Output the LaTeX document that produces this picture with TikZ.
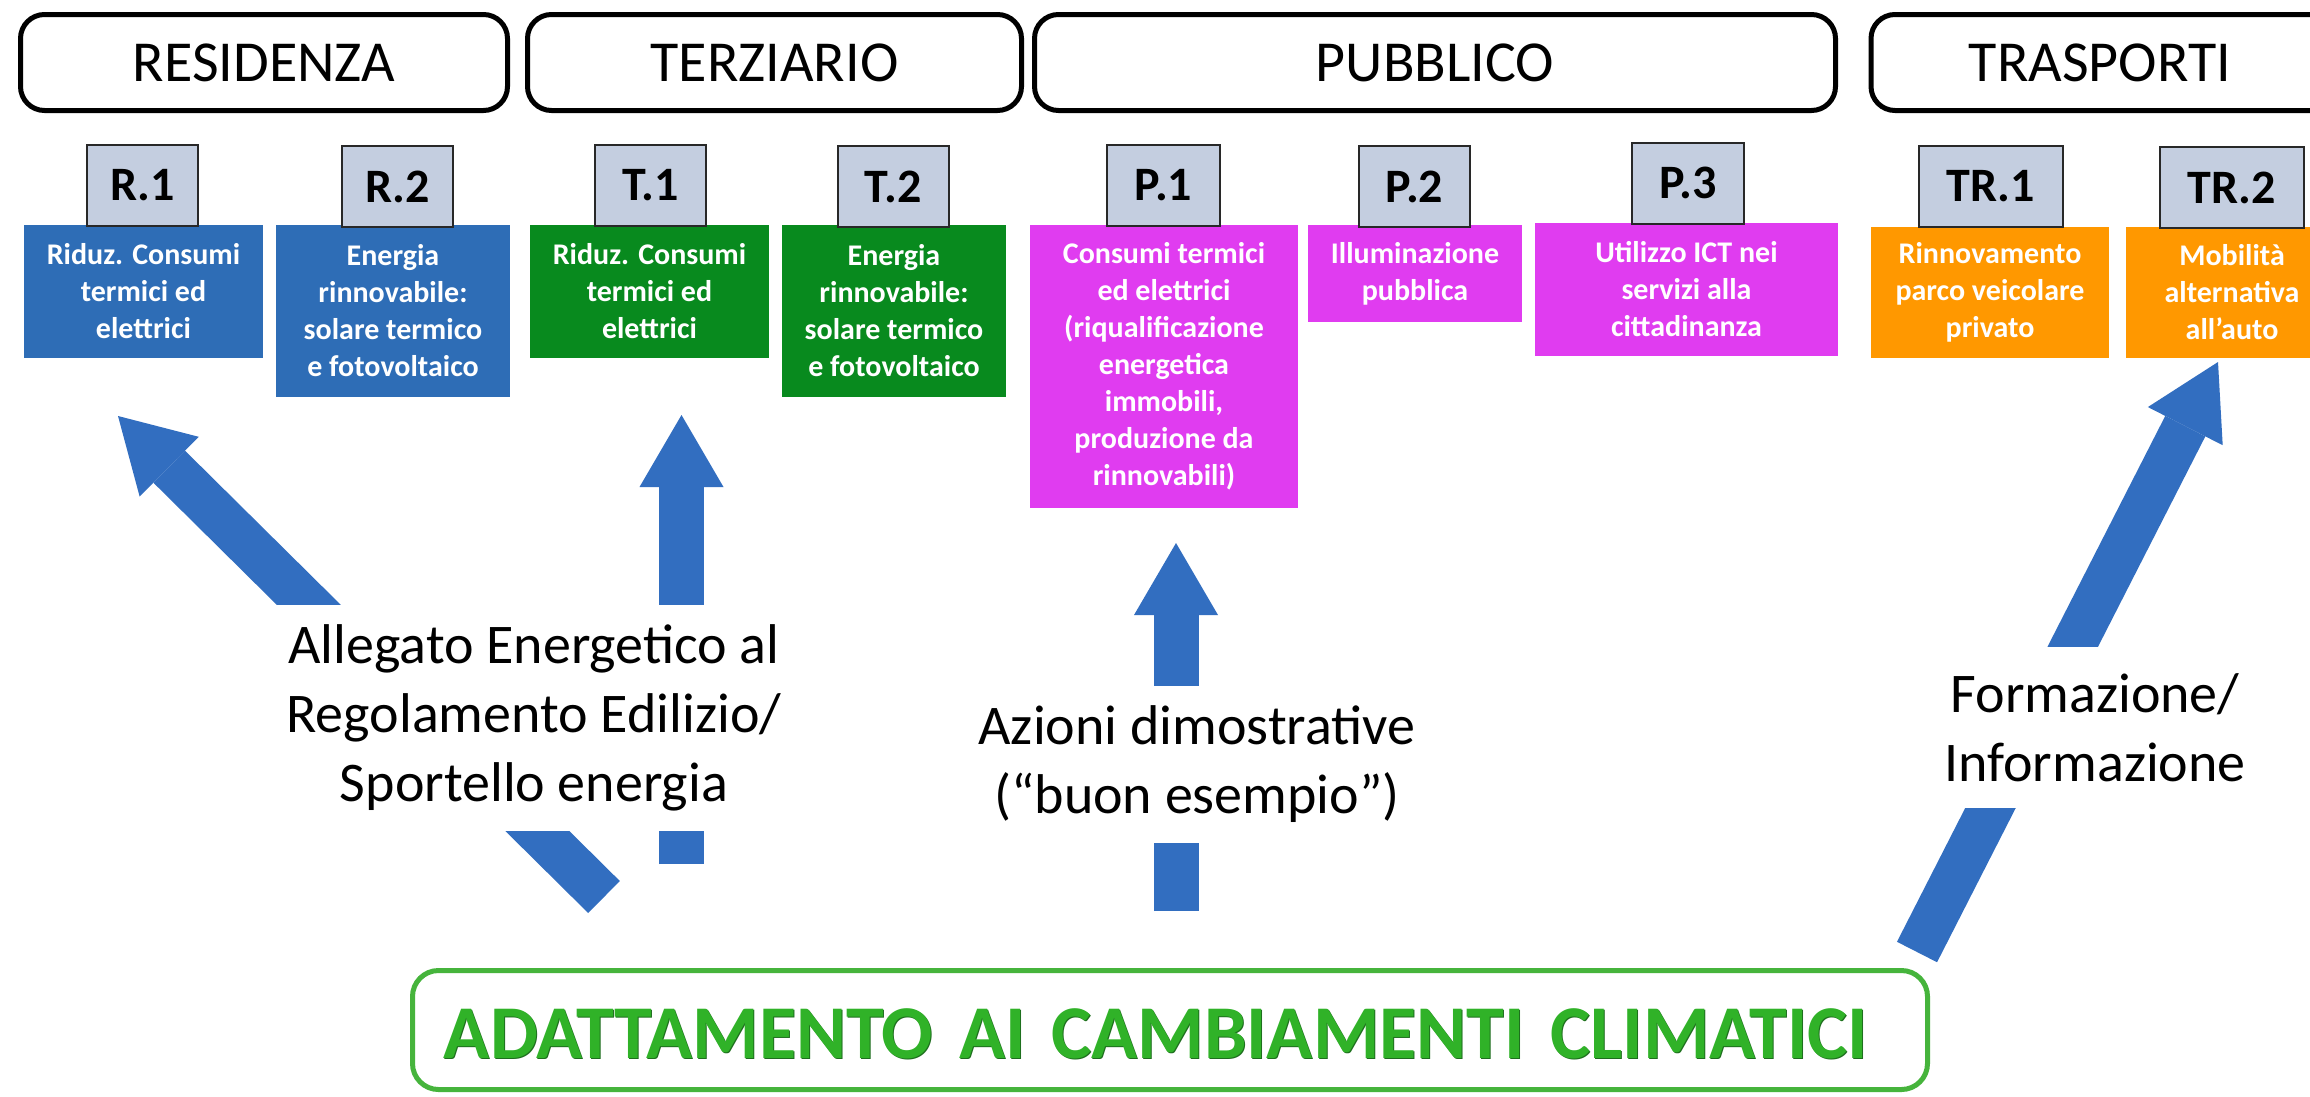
\documentclass[tikz,border=0pt]{standalone}
\usepackage{fontspec}
\setmainfont{Carlito}
\usetikzlibrary{arrows.meta}
\definecolor{boxblue}{RGB}{46,109,182}
\definecolor{boxgreen}{RGB}{8,138,30}
\definecolor{boxpink}{RGB}{224,60,240}
\definecolor{boxorange}{RGB}{255,152,0}
\definecolor{labelfill}{RGB}{196,206,224}
\definecolor{labeldraw}{RGB}{40,40,40}
\definecolor{arrowblue}{RGB}{50,110,192}
\definecolor{framegreen}{RGB}{70,180,60}
\definecolor{titlegreen}{RGB}{48,178,40}
\definecolor{titleshadow}{RGB}{30,110,30}
\tikzset{
  header/.style={draw=black, line width=5pt, rounded corners=24pt, fill=white,
    minimum height=96pt, inner sep=0pt, font=\fontsize{58}{70}\selectfont},
  codebox/.style={draw=labeldraw, line width=2pt, fill=labelfill, minimum width=111pt,
    minimum height=81pt, inner sep=0pt, font=\bfseries\fontsize{48}{58}\selectfont},
  itembox/.style={inner sep=0pt, text=white, align=center,
    font=\bfseries\fontsize{30}{37}\selectfont},
  captionbox/.style={fill=white, inner sep=0pt, align=center,
    font=\fontsize{56}{69}\selectfont},
  bigarrow/.style={draw=arrowblue, line width=45pt,
    -{Triangle[width=84pt,length=72pt,line width=0pt]}},
  titletext/.style={inner sep=0pt, font=\bfseries\fontsize{76}{90}\selectfont},
}
\begin{document}
\begin{tikzpicture}[x=1pt,y=-1pt]
\useasboundingbox (0,0) rectangle (2310,1096);
\clip (0,0) rectangle (2310,1096);
\fill[white] (0,0) rectangle (2310,1096);

% headers
\node[header, minimum width=487pt] (res) at (264,62.5) {RESIDENZA};
\node[header, minimum width=494pt] (ter) at (774.5,62.5) {TERZIARIO};
\node[header, minimum width=801pt] (pub) at (1435,62.5) {PUBBLICO};
\node[header, minimum width=598pt] (tra) at (2170,62.5) {};
\node[inner sep=0pt, font=\fontsize{58}{70}\selectfont] (traT) at (2100,62.5) {TRASPORTI};

% coloured boxes
\node[itembox, fill=boxblue, minimum width=239pt, minimum height=133pt] (r1b) at (143.5,291.5) {Riduz. Consumi\\termici ed\\elettrici};
\node[itembox, fill=boxblue, minimum width=234pt, minimum height=172pt] (r2b) at (393,311) {Energia\\rinnovabile:\\solare termico\\e fotovoltaico};
\node[itembox, fill=boxgreen, minimum width=239pt, minimum height=133pt] (t1b) at (649.5,291.5) {Riduz. Consumi\\termici ed\\elettrici};
\node[itembox, fill=boxgreen, minimum width=224pt, minimum height=172pt] (t2b) at (894,311) {Energia\\rinnovabile:\\solare termico\\e fotovoltaico};
\node[itembox, fill=boxpink, minimum width=268pt, minimum height=283pt] (p1b) at (1164,366.5) {Consumi termici\\ed elettrici\\(riqualificazione\\energetica\\immobili,\\produzione da\\rinnovabili)};
\node[itembox, fill=boxpink, minimum width=214pt, minimum height=97pt] (p2b) at (1415,273.5) {Illuminazione\\pubblica};
\node[itembox, fill=boxpink, minimum width=303pt, minimum height=133pt] (p3b) at (1686.5,289.5) {Utilizzo ICT nei\\servizi alla\\cittadinanza};
\node[itembox, fill=boxorange, minimum width=238pt, minimum height=131pt] (tr1b) at (1990,292.5) {Rinnovamento\\parco veicolare\\privato};
\node[fill=boxorange, minimum width=260pt, minimum height=131pt, inner sep=0pt] (tr2b) at (2256,292.5) {};
\node[itembox] (tr2bT) at (2232,292.5) {Mobilità\\alternativa\\all’auto};

% code labels
\node[codebox] (r1) at (142.5,185.5) {R.1};
\node[codebox] (r2) at (397.5,186.5) {R.2};
\node[codebox] (t1) at (650.5,185.5) {T.1};
\node[codebox] (t2) at (893,186.5) {T.2};
\node[codebox, minimum width=113pt] (p1) at (1163.5,185.5) {P.1};
\node[codebox] (p2) at (1414.5,186.5) {P.2};
\node[codebox, minimum width=112pt] (p3) at (1688,183) {P.3};
\node[codebox, minimum width=144pt] (tr1) at (1991,186.5) {TR.1};
\node[codebox, minimum width=144pt] (tr2) at (2232,187.5) {TR.2};

% arrows
\coordinate (a1t) at (604,897);  \coordinate (a1h) at (118,416);
\coordinate (a2t) at (681.5,864); \coordinate (a2h) at (681.5,415);
\coordinate (a3t) at (1176,911); \coordinate (a3h) at (1176,543);
\coordinate (a4t) at (1917,952); \coordinate (a4h) at (2218,362);
\draw[bigarrow] (a1t) -- (a1h);
\draw[bigarrow] (a2t) -- (a2h);
\draw[bigarrow] (a3t) -- (a3h);
\draw[bigarrow] (a4t) -- (a4h);

% captions (white background interrupts the arrows)
\node[captionbox, minimum width=520pt, minimum height=226pt] (alleg) at (534,718) {Allegato Energetico al\\Regolamento Edilizio/\\Sportello energia};
\node[captionbox, minimum width=450pt, minimum height=157pt] (azioni) at (1197,764.5) {Azioni dimostrative\\(“buon esempio”)};
\node[captionbox, minimum width=310pt, minimum height=161pt] (formaz) at (2095,727.5) {Formazione/\\Informazione};

% bottom box
\node[draw=framegreen, line width=5pt, rounded corners=26pt, minimum width=1515pt, minimum height=119pt, inner sep=0pt] (adatt) at (1170,1030) {};
\node[titletext, text=titleshadow] (adattS) at (1157,1035.2) {ADATTAMENTO\hspace{26pt}AI\hspace{26pt}CAMBIAMENTI\hspace{26pt}CLIMATICI};
\node[titletext, text=titlegreen] (adattT) at (1156,1034) {ADATTAMENTO\hspace{26pt}AI\hspace{26pt}CAMBIAMENTI\hspace{26pt}CLIMATICI};
\end{tikzpicture}
\end{document}
